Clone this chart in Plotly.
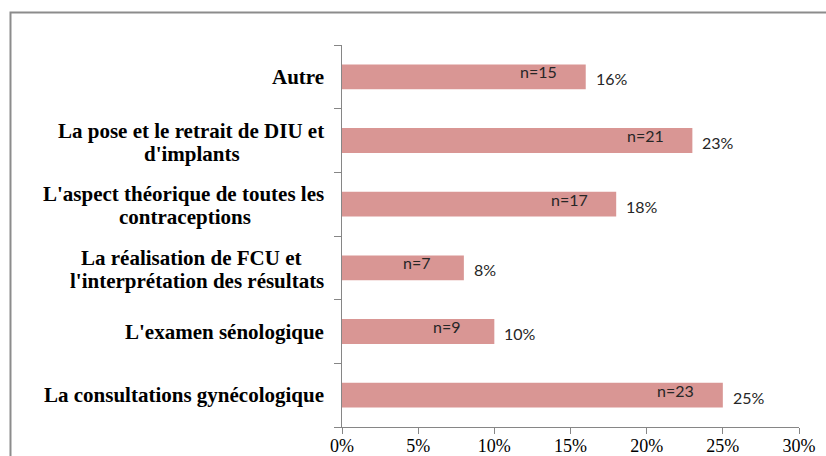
import plotly.graph_objects as go

# Data (bottom to top)
categories = [
    "La consultations gynécologique",
    "L'examen sénologique",
    "La réalisation de FCU et l'interprétation des résultats",
    "L'aspect théorique de toutes les contraceptions",
    "La pose et le retrait de DIU et d'implants",
    "Autre",
]
label_lines = [
    ["La consultations gynécologique"],
    ["L'examen sénologique"],
    ["La réalisation de FCU et", "l'interprétation des résultats"],
    ["L'aspect théorique de toutes les", "contraceptions"],
    ["La pose et le retrait de DIU et", "d'implants"],
    ["Autre"],
]
percent_values = [0.25, 0.10, 0.08, 0.18, 0.23, 0.16]
n_values = [23, 9, 7, 17, 21, 15]
tick_vals = [0, 0.05, 0.10, 0.15, 0.20, 0.25, 0.30]
tick_text = ["0%", "5%", "10%", "15%", "20%", "25%", "30%"]

BAR_COLOR = "#D99694"
AXIS_COLOR = "#868686"
SERIF = "Liberation Serif, Times New Roman, serif"
SANS = "Lato, sans-serif"

fig = go.Figure()
fig.add_trace(go.Bar(
    x=percent_values,
    y=categories,
    orientation="h",
    marker=dict(color=BAR_COLOR, line=dict(width=0)),
    width=0.39,
    hoverinfo="skip",
))

annotations = []
label_font = dict(family=SERIF, size=21, color="#000000")
two_line_center_shift = {2: -151, 3: -157, 4: -150}
for i, (cat, lines) in enumerate(zip(categories, label_lines)):
    if len(lines) == 1:
        annotations.append(dict(
            x=0, xref="paper", y=cat, yref="y", text=f"<b>{lines[0]}</b>",
            xanchor="right", yanchor="middle", xshift=-16, yshift=0,
            showarrow=False, font=label_font,
        ))
    else:
        long_idx = 0 if len(lines[0]) >= len(lines[1]) else 1
        for j, line in enumerate(lines):
            ys = 10 if j == 0 else -13
            if j == long_idx:
                annotations.append(dict(
                    x=0, xref="paper", y=cat, yref="y", text=f"<b>{line}</b>",
                    xanchor="right", yanchor="middle", xshift=-16, yshift=ys,
                    showarrow=False, font=label_font,
                ))
            else:
                annotations.append(dict(
                    x=0, xref="paper", y=cat, yref="y", text=f"<b>{line}</b>",
                    xanchor="center", yanchor="middle",
                    xshift=two_line_center_shift[i], yshift=ys,
                    showarrow=False, font=label_font,
                ))

for cat, v, n in zip(categories, percent_values, n_values):
    annotations.append(dict(
        x=v, y=cat, xref="x", yref="y", text=f"n={n}",
        xanchor="center", yanchor="middle", xshift=-47, yshift=5,
        showarrow=False, font=dict(family=SANS, size=16, color="#262626"),
    ))
    annotations.append(dict(
        x=v, y=cat, xref="x", yref="y", text=f"{round(v*100)}%",
        xanchor="left", yanchor="middle", xshift=8, yshift=-2,
        showarrow=False, font=dict(family=SANS, size=16, color="#262626"),
    ))

fig.update_layout(
    width=826, height=456, autosize=False,
    margin=dict(l=342, r=27, t=45, b=29, autoexpand=False),
    paper_bgcolor="white", plot_bgcolor="white",
    showlegend=False,
    annotations=annotations,
    shapes=[dict(
        type="rect", xref="paper", yref="paper",
        x0=-0.7254, x1=2.0, y0=-1.0, y1=1.0851,
        line=dict(color="#8C8C8C", width=2), fillcolor="rgba(0,0,0,0)",
        layer="below",
    )],
    xaxis=dict(
        range=[0, 0.30], tickvals=tick_vals, ticktext=tick_text,
        showline=True, linecolor=AXIS_COLOR, linewidth=1,
        ticks="outside", ticklen=6, tickcolor=AXIS_COLOR, tickwidth=1,
        ticklabelstandoff=-4,
        showgrid=False, zeroline=False, automargin=False,
        tickfont=dict(family=SERIF, size=18, color="#000000"),
        fixedrange=True,
    ),
    yaxis=dict(
        type="category", categoryorder="array", categoryarray=categories,
        range=[-0.5, 5.5],
        showline=True, linecolor=AXIS_COLOR, linewidth=1,
        ticks="outside", ticklen=7, tickcolor=AXIS_COLOR, tickwidth=1,
        tickson="boundaries", showticklabels=False, automargin=False,
        showgrid=False, zeroline=False, fixedrange=True,
    ),
)

fig.write_html(
    "out.html",
    config={"displayModeBar": False},
    post_script="document.body.style.margin='0';document.body.style.overflow='hidden';",
)
